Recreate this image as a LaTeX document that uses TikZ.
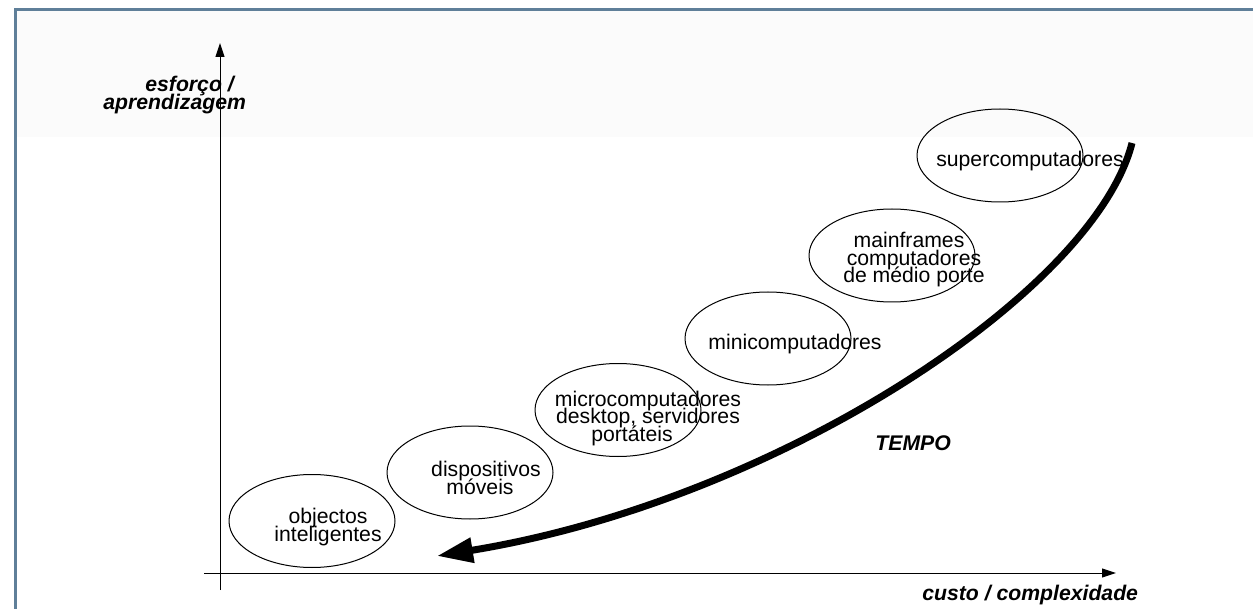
\documentclass[tikz,border=0pt]{standalone}
\usepackage{fontspec}
\setmainfont{Liberation Sans}
\usetikzlibrary{arrows.meta,shapes.geometric}
\definecolor{framec}{HTML}{5F7F99}
\definecolor{bandc}{HTML}{FBFBFB}
\newcommand\mylblfont{\fontsize{10.6}{8.75}\selectfont\lineskiplimit=-100pt\relax}
\newcommand\myaxfont{\fontsize{10.6}{8.75}\selectfont\bfseries\itshape}
\begin{document}
\begin{tikzpicture}[x=0.5pt,y=-0.5pt,
  lbl/.style={font=\mylblfont, align=center, inner sep=0pt, anchor=base},
  ax/.style={line width=0.5pt, -{Triangle[length=7pt,width=4.5pt]}},
  oval/.style={draw, ellipse, line width=0.5pt, minimum width=83pt, minimum height=46.5pt, inner sep=0pt},
  axlbl/.style={font=\myaxfont, inner sep=0pt, anchor=base west},
  timearrow/.style={line width=3.5pt, -{Triangle[length=18pt,width=12pt]}}
]
\useasboundingbox (0,0) rectangle (1253,609);
% background band and frame
\fill[bandc] (16,10) rectangle (1253,137);
\draw[framec, line width=1.25pt] (15.5,609) -- (15.5,9.5) -- (1253,9.5);
% axes
\coordinate (yb) at (220,590);
\coordinate (yt) at (220,43);
\coordinate (xl) at (204,573);
\coordinate (xr) at (1116,573);
\draw[ax] (yb) -- (yt);
\draw[ax] (xl) -- (xr);
\node[axlbl] (ylab1) at (145,92) {esforço /};
\node[axlbl] (ylab2) at (103,110) {aprendizagem};
\node[axlbl] (xlab) at (922,600) {custo / complexidade};
% ellipses
\node[oval] (e1) at (312,521) {};
\node[oval] (e2) at (470,472.5) {};
\node[oval] (e3) at (618,410) {};
\node[oval] (e4) at (768,338.5) {};
\node[oval] (e5) at (892,255.5) {};
\node[oval] (e6) at (1000,155.5) {};
% texts (base anchor = baseline of last line)
\node[lbl] (t1) at (328,541) {objectos\\inteligentes};
\node[lbl] (t2) at (486,494) {dispositivos\\móveis\hspace*{6pt}};
\node[lbl] (t3) at (648,441) {microcomputadores\\desktop, servidores\\portáteis\hspace*{16pt}};
\node[lbl] (t4) at (795,350) {minicomputadores};
\node[lbl] (t5) at (914,283) {mainframes\hspace*{5pt}\\computadores\\de médio porte};
\node[lbl] (t6) at (1030,167) {supercomputadores};
\node[axlbl] (tempo) at (875,450) {TEMPO};
% time arrow
\coordinate (ts) at (1132,143);
\coordinate (te) at (437,556);
\draw[timearrow] (ts) .. controls (1095,290) and (780,500) .. (te);
\end{tikzpicture}
\end{document}
